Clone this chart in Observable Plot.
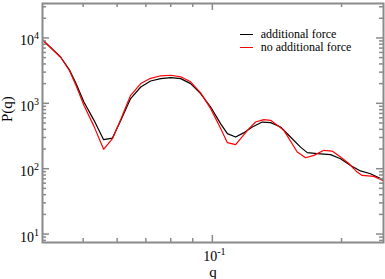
<!DOCTYPE html>
<html><head><meta charset="utf-8">
<script src="https://cdn.jsdelivr.net/npm/d3@7"></script>
<script src="https://cdn.jsdelivr.net/npm/@observablehq/plot@0.6"></script>
<style>
body{margin:0;background:#fff;}
#wrap{position:relative;width:385px;height:279px;font-family:"Liberation Serif","Times New Roman",serif;}
#legend{position:absolute;left:240px;top:28.6px;font-size:12px;color:#000;}
.row{display:flex;align-items:center;height:12.7px;white-space:nowrap;}
.sw{display:inline-block;width:13px;height:0;border-top:1.3px solid;margin-right:7.7px;}
</style></head><body><div id="wrap"><div id="legend"></div></div>
<script>
const qBlack = [0.0403,0.0443,0.0464,0.0481,0.0502,0.0530,0.0558,0.0585,0.0612,0.0645,0.0681,0.0718,0.0758,0.0800,0.0844,0.0890,0.0939,0.0991,0.1045,0.1084,0.1133,0.1182,0.1239,0.1307,0.1367,0.1442,0.1521,0.1605,0.1664,0.1756,0.1885,0.1989,0.2099,0.2214,0.2336,0.2504];
const pBlack = [9222,5117,3281,2024,1047,549,278,294,549,1180,1777,2196,2389,2475,2389,2003,1408,878,489,344,305,353,434,517,506,434,305,214,176,170,164,142,112,92.5,83.8,67.4];
const qRed = [0.0403,0.0443,0.0464,0.0481,0.0502,0.0530,0.0558,0.0585,0.0612,0.0645,0.0681,0.0718,0.0758,0.0800,0.0844,0.0890,0.0939,0.0991,0.1045,0.1084,0.1133,0.1217,0.1261,0.1318,0.1367,0.1468,0.1577,0.1649,0.1724,0.1819,0.1902,0.1989,0.2076,0.2175,0.2234,0.2378,0.2504];
const pRed = [9222,5063,3202,1887,932,444,198,288,569,1326,2003,2414,2637,2685,2546,2134,1448,830,414,250,233,410,517,563,549,386,180,147,160,191,186,151,121,88.7,79,76.2,65.1];
const seriesNames = ["additional force","no additional force"];
const seriesColors = ["#000000","#ff0000"];
const xMajorTicks = [0.1];
const xMinorTicks = [0.05,0.06,0.07,0.08,0.09,0.2];
const yMajorTicks = [10,100,1000,10000];
const yMinorTicks = [8,9,20,30,40,50,60,70,80,90,200,300,400,500,600,700,800,900,2000,3000,4000,5000,6000,7000,8000,9000,20000,30000];
const xTickExps = ["-1"];
const yTickExps = ["1","2","3","4"];

const W=385,H=279,mL=42,mR=2,mT=3,mB=37;
const fh=H-mT-mB, fw=W-mL-mR;
const axisColor="#8a8a8a";
const black = qBlack.map((q,i)=>({q, p:pBlack[i]}));
const red = qRed.map((q,i)=>({q, p:pRed[i]}));
const font = '"Liberation Serif","Times New Roman",serif';

const plot = Plot.plot({
  width:W, height:H, marginLeft:mL, marginRight:mR, marginTop:mT, marginBottom:mB,
  style:{fontFamily:font, fontSize:"14px", background:"#fff", color:"#000"},
  x:{type:"log", domain:[0.0402,0.2505], label:null},
  y:{type:"log", domain:[7.43,33640], label:null},
  marks:[
    Plot.line(black,{x:"q",y:"p",stroke:seriesColors[0],strokeWidth:1.2,clip:true}),
    Plot.line(red,{x:"q",y:"p",stroke:seriesColors[1],strokeWidth:1.2,clip:true}),
    Plot.tickX(xMajorTicks,{x:d=>d,stroke:axisColor,strokeWidth:1.5,insetTop:fh-7}),
    Plot.tickX(xMajorTicks,{x:d=>d,stroke:axisColor,strokeWidth:1.5,insetBottom:fh-7}),
    Plot.tickX(xMinorTicks,{x:d=>d,stroke:axisColor,strokeWidth:1.5,insetTop:fh-4}),
    Plot.tickX(xMinorTicks,{x:d=>d,stroke:axisColor,strokeWidth:1.5,insetBottom:fh-4}),
    Plot.tickY(yMajorTicks,{y:d=>d,stroke:axisColor,strokeWidth:1.5,insetRight:fw-7}),
    Plot.tickY(yMajorTicks,{y:d=>d,stroke:axisColor,strokeWidth:1.5,insetLeft:fw-7}),
    Plot.tickY(yMinorTicks,{y:d=>d,stroke:axisColor,strokeWidth:1.5,insetRight:fw-4}),
    Plot.tickY(yMinorTicks,{y:d=>d,stroke:axisColor,strokeWidth:1.5,insetLeft:fw-4}),
    Plot.axisX(xMajorTicks,{tickSize:0,tickPadding:9,label:null,fontSize:14,dx:2,
      tickFormat:d=>"10^"+xTickExps[xMajorTicks.indexOf(d)]}),
    Plot.axisY(yMajorTicks,{tickSize:0,tickPadding:3.5,label:null,fontSize:14,dy:3,
      tickFormat:d=>"10^"+yTickExps[yMajorTicks.indexOf(d)]}),
    Plot.frame({stroke:axisColor,strokeWidth:2}),
    Plot.text(["q"],{frameAnchor:"bottom",text:d=>d,fontSize:15,dy:34}),
    Plot.text(["P(q)"],{frameAnchor:"left",text:d=>d,rotate:-90,fontSize:15,dx:-35,dy:-1})
  ]
});
plot.querySelectorAll('g[aria-label="x-axis tick label"] text, g[aria-label="y-axis tick label"] text').forEach(t=>{
  const parts = t.textContent.split("^");
  if (parts.length<2) return;
  t.textContent = parts[0];
  const ts = document.createElementNS("http://www.w3.org/2000/svg","tspan");
  ts.setAttribute("dy","-6");
  ts.setAttribute("font-size","10");
  ts.textContent = parts[1];
  t.appendChild(ts);
});
const wrap = document.getElementById("wrap");
wrap.insertBefore(plot, wrap.firstChild);
const legend = document.getElementById("legend");
seriesNames.forEach((n,i)=>{
  const row = document.createElement("div"); row.className="row";
  const sw = document.createElement("span"); sw.className="sw"; sw.style.borderTopColor=seriesColors[i];
  const tx = document.createElement("span"); tx.textContent=n;
  row.appendChild(sw); row.appendChild(tx); legend.appendChild(row);
});
</script></body></html>
